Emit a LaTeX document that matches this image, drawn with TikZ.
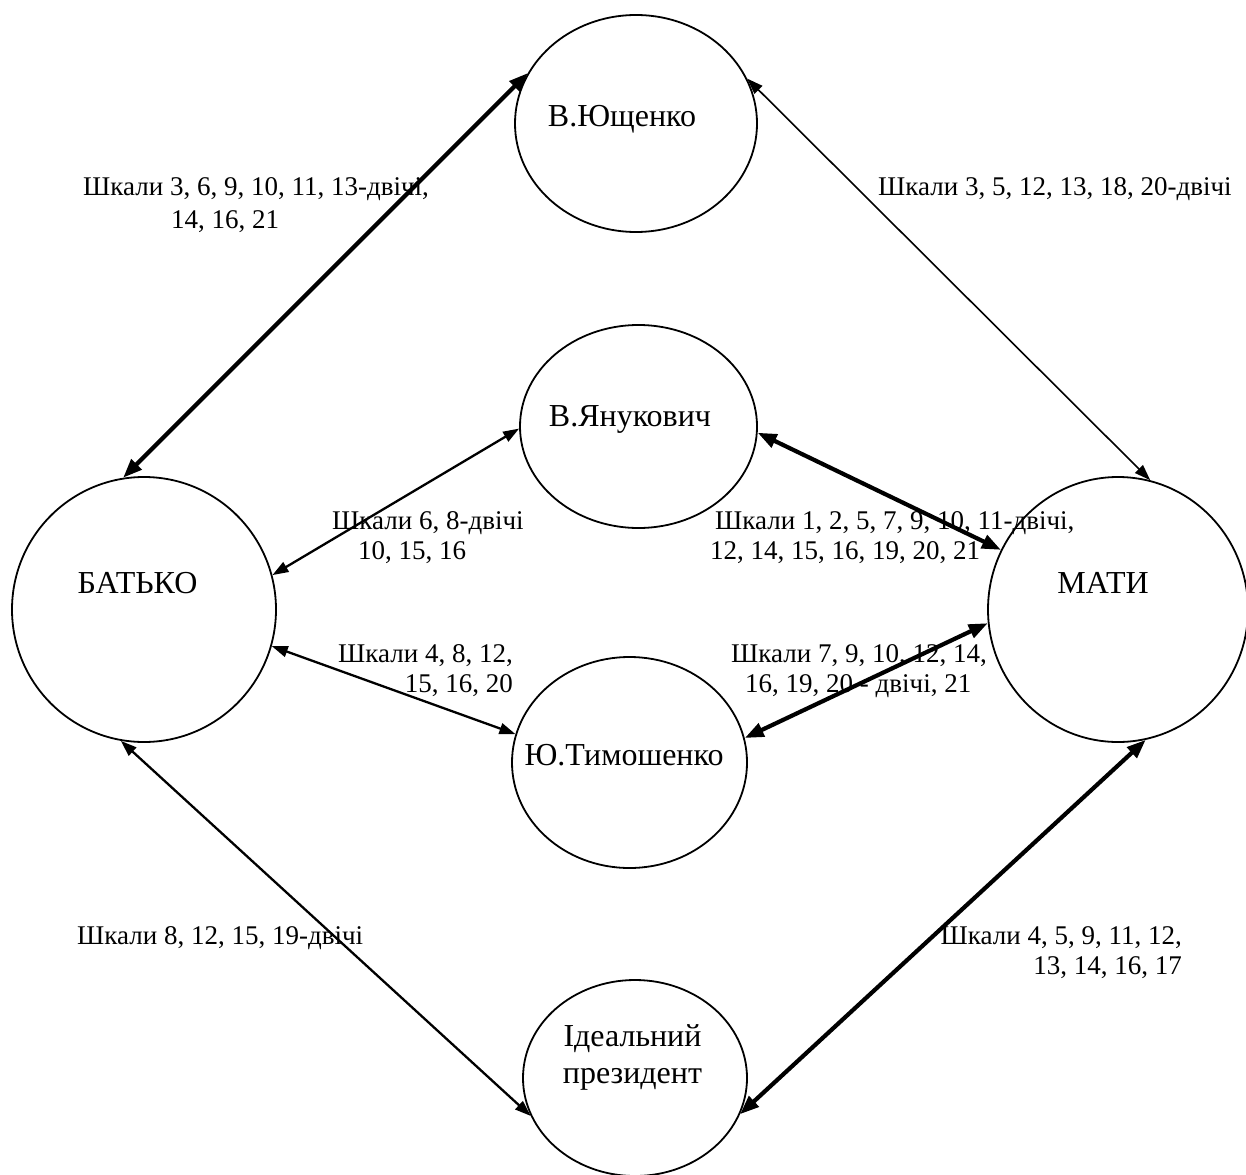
\documentclass[tikz,border=0pt]{standalone}
\usepackage{fontspec}
\setmainfont{Liberation Serif}
\usetikzlibrary{shapes.geometric,arrows.meta}
\begin{document}
\begin{tikzpicture}[x=1pt,y=-1pt,
  person/.style={draw, ellipse, line width=1.8pt, inner sep=0pt},
  nodetext/.style={font=\fontsize{32}{36.5}\selectfont, inner sep=0pt, anchor=base},
  scalelabel/.style={font=\fontsize{27}{30}\selectfont, inner sep=0pt},
  thinlink/.style={{Triangle[length=16pt,width=11pt]}-{Triangle[length=16pt,width=11pt]}, line width=1.6pt},
  medlink/.style={{Triangle[length=16pt,width=11pt]}-{Triangle[length=16pt,width=11pt]}, line width=2.3pt},
  thicklink/.style={{Triangle[length=19pt,width=14pt]}-{Triangle[length=19pt,width=14pt]}, line width=4.2pt},
]
\useasboundingbox (0,0) rectangle (1246,1174);

% ellipses
\node[person, minimum width=242pt, minimum height=217pt] (yu)  at (636,123.5) {};
\node[person, minimum width=237pt, minimum height=203pt] (ya)  at (638.5,426.5) {};
\node[person, minimum width=264pt, minimum height=265pt] (bat) at (144,609.5) {};
\node[person, minimum width=260pt, minimum height=265pt] (mat) at (1118,609.5) {};
\node[person, minimum width=235pt, minimum height=211pt] (tym) at (629.5,762.5) {};
\node[person, minimum width=224pt, minimum height=196pt] (id)  at (635,1078) {};

% names
\node[nodetext] (tyu)  at (622,126.7) {В.Ющенко};
\node[nodetext] (tya)  at (630,426.7) {В.Янукович};
\node[nodetext] (tbat) at (137.5,593) {БАТЬКО};
\node[nodetext] (tmat) at (1103,593) {МАТИ};
\node[nodetext] (ttym) at (624,765) {Ю.Тимошенко};
\node[nodetext] (tid)  at (632.5,1046.7) {\begin{tabular}[t]{@{}c@{}}Ідеальний\\президент\end{tabular}};

% connectors
\draw[thicklink] (bat.99.5) -- (yu.155.8);
\draw[thinlink]  (yu.22.7) -- (mat.76);
\draw[medlink]   (bat.15.7) -- (ya.181.6);
\draw[thicklink] (ya.357.3) -- (mat.153);
\draw[medlink]   (bat.344.6) -- (tym.166);
\draw[thicklink] (mat.186) -- (tym.12.7);
\draw[medlink]   (bat.260.6) -- (id.200);
\draw[thicklink] (mat.282) -- (id.341);

% labels
\node[scalelabel, anchor=base west] (l1) at (83,196) {\begin{tabular}[t]{@{}l@{}}Шкали 3, 6, 9, 10, 11, 13-двічі,\\[3pt]\hspace*{88pt}14, 16, 21\end{tabular}};
\node[scalelabel, anchor=base west] (l2) at (878,196) {Шкали 3, 5, 12, 13, 18, 20-двічі};
\node[scalelabel, anchor=base west] (l3) at (332,529) {\begin{tabular}[t]{@{}l@{}}Шкали 6, 8-двічі\\\hspace*{26pt}10, 15, 16\end{tabular}};
\node[scalelabel, anchor=base west] (l4) at (710,529) {\begin{tabular}[t]{@{}l@{}}\hspace*{5pt}Шкали 1, 2, 5, 7, 9, 10, 11-двічі,\\12, 14, 15, 16, 19, 20, 21\end{tabular}};
\node[scalelabel, anchor=base east] (l5) at (513,662) {\begin{tabular}[t]{@{}r@{}}Шкали 4, 8, 12,\\15, 16, 20\end{tabular}};
\node[scalelabel, anchor=base west] (l6) at (731,662) {\begin{tabular}[t]{@{}l@{}}Шкали 7, 9, 10, 12, 14,\\\hspace*{14pt}16, 19, 20 - двічі, 21\end{tabular}};
\node[scalelabel, anchor=base west] (l7) at (77,944) {Шкали 8, 12, 15, 19-двічі};
\node[scalelabel, anchor=base east] (l8) at (1182,944) {\begin{tabular}[t]{@{}r@{}}Шкали 4, 5, 9, 11, 12,\\13, 14, 16, 17\end{tabular}};
\end{tikzpicture}
\end{document}
